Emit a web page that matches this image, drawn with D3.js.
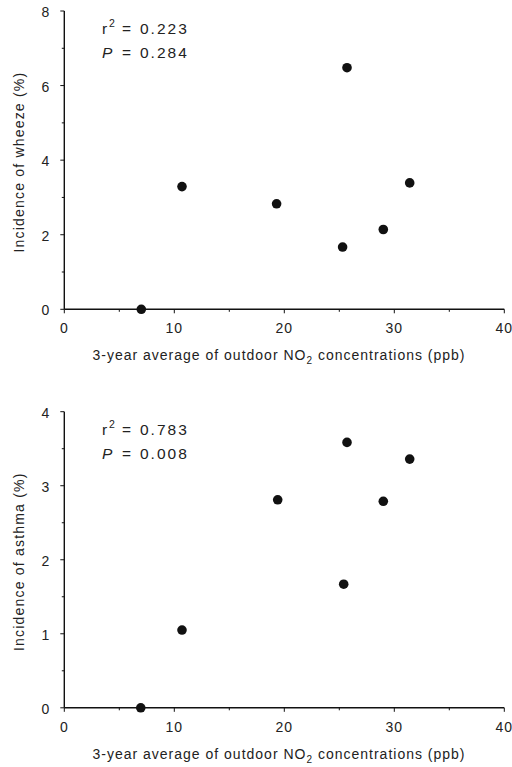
<!DOCTYPE html>
<html>
<head>
<meta charset="utf-8">
<script src="https://cdn.jsdelivr.net/npm/d3@7"></script>
<style>
  body { margin: 0; background: #fff; }
  svg text { font-family: "Liberation Sans", Arial, sans-serif; fill: #222; }
</style>
</head>
<body>
<div id="chart"></div>
<script>
    var width = 512,
        height = 767;

// data
    var no2 = [7.0, 10.7, 19.3, 25.7, 25.3, 29.0, 31.4];
    var wheeze = [0, 3.29, 2.83, 6.48, 1.67, 2.14, 3.39];
    var no2Asthma = [6.95, 10.7, 19.4, 25.7, 25.4, 29.0, 31.4];
    var asthma = [0, 1.05, 2.81, 3.585, 1.67, 2.79, 3.36];
    var xTicks = [0, 10, 20, 30, 40];
    var wheezeTicks = [0, 2, 4, 6, 8];
    var asthmaTicks = [0, 1, 2, 3, 4];

    var svg = d3.select("#chart").append("svg")
        .attr("width", width)
        .attr("height", height);

    function panel(cfg) {
        var x = d3.scaleLinear().domain([0, 40]).range([64.3, 504.3]);
        var y = d3.scaleLinear().domain([0, cfg.ymax]).range([cfg.y0, cfg.y1]);
        var g = svg.append("g");

        // x axis, major ticks every 10 and minor every 5
        var xAxis = g.append("g").attr("transform", "translate(0," + cfg.y0 + ")");
        xAxis.append("line")
            .attr("x1", x(0)).attr("x2", x(40))
            .attr("stroke", "#111").attr("stroke-width", 1.4);
        xAxis.selectAll(".xt").data(d3.range(0, 41, 5)).enter().append("line")
            .attr("x1", function (d) { return x(d); })
            .attr("x2", function (d) { return x(d); })
            .attr("y1", 0)
            .attr("y2", function (d) { return d % 10 === 0 ? 4 : 2.5; })
            .attr("stroke", "#111").attr("stroke-width", 1);
        xAxis.selectAll(".xl").data(xTicks).enter().append("text")
            .attr("x", function (d) { return x(d); })
            .attr("y", 24)
            .style("text-anchor", "middle")
            .style("font-size", "14px")
            .style("letter-spacing", "1px")
            .text(function (d) { return d; });

        var title = xAxis.append("text")
            .attr("x", 279)
            .attr("y", 51)
            .style("text-anchor", "middle")
            .style("font-size", "14px")
            .style("letter-spacing", "1px");
        title.append("tspan").text("3-year average of outdoor NO");
        title.append("tspan").attr("dy", 4).style("font-size", "10px").text("2");
        title.append("tspan").attr("dy", -4).text(" concentrations (ppb)");

        // y axis
        var yAxis = g.append("g").attr("transform", "translate(" + x(0) + ",0)");
        yAxis.append("line")
            .attr("y1", y(0)).attr("y2", y(cfg.ymax))
            .attr("stroke", "#111").attr("stroke-width", 1.4);
        yAxis.selectAll(".yt").data(d3.range(0, cfg.ymax + 0.01, cfg.ymax / 8)).enter().append("line")
            .attr("y1", function (d) { return y(d); })
            .attr("y2", function (d) { return y(d); })
            .attr("x1", 0)
            .attr("x2", function (d, i) { return i % 2 === 0 ? -4 : -2.5; })
            .attr("stroke", "#111").attr("stroke-width", 1);
        yAxis.selectAll(".yl").data(cfg.ticks).enter().append("text")
            .attr("x", -15)
            .attr("y", function (d) { return y(d) + 6; })
            .style("text-anchor", "end")
            .style("font-size", "14px")
            .text(function (d) { return d; });

        svg.append("text")
            .attr("transform", "translate(24," + ((cfg.y0 + cfg.y1) / 2 + 2) + ") rotate(-90)")
            .style("text-anchor", "middle")
            .style("font-size", "14px")
            .style("letter-spacing", "1.2px")
            .text(cfg.label);

        // r2 / P annotation
        var ann = svg.append("g").style("font-size", "15.5px");
        ann.append("text").attr("x", 102).attr("y", cfg.y1 + 23).text("r");
        ann.append("text").attr("x", 109).attr("y", cfg.y1 + 16)
            .style("font-size", "10.5px").text("2");
        ann.append("text").attr("x", 102).attr("y", cfg.y1 + 47)
            .style("font-style", "italic").text("P");
        [cfg.y1 + 23, cfg.y1 + 47].forEach(function (yy, i) {
            ann.append("text").attr("x", 122).attr("y", yy).text("=");
            ann.append("text").attr("x", 140).attr("y", yy)
                .style("letter-spacing", "2px")
                .text(i === 0 ? cfg.r2 : cfg.p);
        });

        // points
        g.selectAll("circle").data(cfg.xs).enter().append("circle")
            .attr("cx", function (d) { return x(d); })
            .attr("cy", function (d, i) { return y(cfg.ys[i]); })
            .attr("r", 4.8)
            .attr("fill", "#111");
    }

    panel({ xs: no2, ys: wheeze, ymax: 8, ticks: wheezeTicks, y0: 309.3, y1: 11,
            label: "Incidence of wheeze (%)", r2: "0.223", p: "0.284" });
    panel({ xs: no2Asthma, ys: asthma, ymax: 4, ticks: asthmaTicks, y0: 707.8, y1: 411.7,
            label: "Incidence of asthma (%)", r2: "0.783", p: "0.008" });
</script>
</body>
</html>
